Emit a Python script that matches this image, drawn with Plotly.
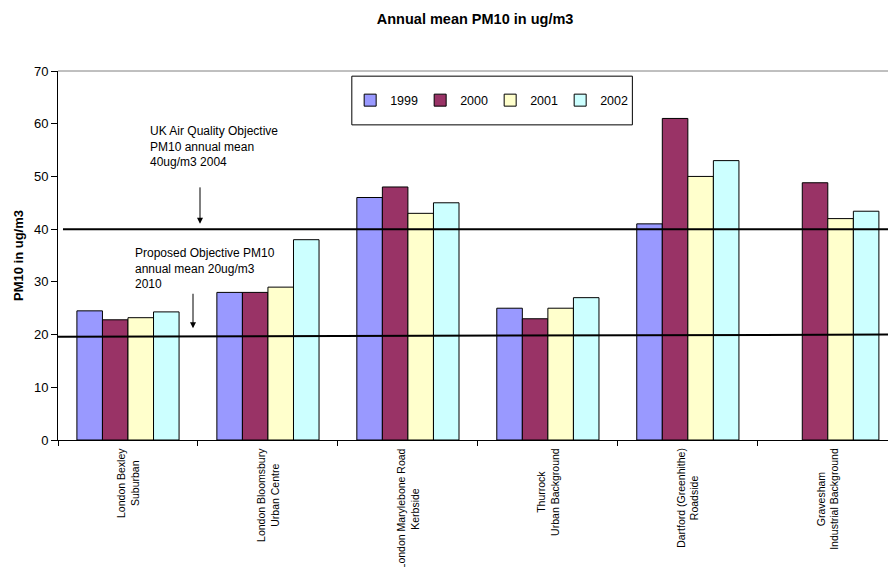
import plotly.graph_objects as go

# Monitoring sites (two-line labels) and annual mean PM10 per year
sites = [
    "London Bexley<br>Suburban",
    "London Bloomsbury<br>Urban Centre",
    "London Marylebone Road<br>Kerbside",
    "Thurrock<br>Urban Background",
    "Dartford (Greenhithe)<br>Roadside",
    "Gravesham<br>Industrial Background",
]
years = ["1999", "2000", "2001", "2002"]
pm10_1999 = [24.5, 28.0, 46.0, 25.0, 41.0, None]
pm10_2000 = [22.8, 28.0, 48.0, 23.0, 61.0, 48.8]
pm10_2001 = [23.2, 29.0, 43.0, 25.0, 50.0, 42.0]
pm10_2002 = [24.3, 38.0, 45.0, 27.0, 53.0, 43.4]
y_ticks = [0, 10, 20, 30, 40, 50, 60, 70]

# Air quality objectives (ug/m3)
objective_2004 = 40
objective_2010 = 20

colors = ["#9999FF", "#993366", "#FFFFCC", "#CCFFFF"]
series = [pm10_1999, pm10_2000, pm10_2001, pm10_2002]
FONT = "Arial, Liberation Sans, sans-serif"

fig = go.Figure()
for year, vals, col in zip(years, series, colors):
    fig.add_trace(go.Bar(
        x=sites, y=vals, name=year,
        marker=dict(color=col, line=dict(color="#000000", width=1)),
    ))

# Objective lines across the plot
fig.add_shape(type="line", xref="paper", yref="y", x0=0.006, x1=1,
              y0=objective_2004, y1=objective_2004,
              line=dict(color="#000000", width=2), layer="above")
fig.add_shape(type="line", xref="paper", yref="y", x0=0, x1=1,
              y0=objective_2010 - 0.4, y1=objective_2010,
              line=dict(color="#000000", width=2), layer="above")

# Top border of plot area
fig.add_shape(type="line", xref="paper", yref="paper", x0=0, x1=1, y0=1, y1=1,
              line=dict(color="#808080", width=1))

# Legend frame
fig.add_shape(type="rect", xref="paper", yref="paper",
              x0=0.354, x1=0.692, y0=0.854, y1=0.986,
              line=dict(color="#000000", width=1), fillcolor="#FFFFFF", layer="below")

annotations = []
# Category labels, rotated and centred
for s in sites:
    annotations.append(dict(
        x=s, xref="x", y=0, yref="paper", yanchor="top", xanchor="center",
        yshift=-6, text=s, textangle=-90, showarrow=False, align="center",
        font=dict(family=FONT, size=10.5, color="#000000"),
    ))

# Objective notes with arrows
annotations.append(dict(
    xref="paper", yref="paper", x=0.108, y=0.862, xanchor="left", yanchor="top",
    text="UK Air Quality Objective<br>PM10 annual mean<br>40ug/m3 2004",
    showarrow=False, align="left", font=dict(family=FONT, size=12, color="#000000"),
))
annotations.append(dict(
    xref="paper", yref="paper", x=0.090, y=0.53, xanchor="left", yanchor="top",
    text="Proposed Objective PM10<br>annual mean 20ug/m3<br>2010",
    showarrow=False, align="left", font=dict(family=FONT, size=12, color="#000000"),
))
annotations.append(dict(
    xref="paper", yref="y", x=(200 - 58) / 830, y=objective_2004 + 1,
    ax=0, ay=-38, text="", showarrow=True, arrowhead=2, arrowsize=1.2,
    arrowwidth=1, arrowcolor="#000000",
))
annotations.append(dict(
    xref="paper", yref="y", x=(193 - 58) / 830, y=objective_2010 + 1.2,
    ax=0, ay=-36, text="", showarrow=True, arrowhead=2, arrowsize=1.2,
    arrowwidth=1, arrowcolor="#000000",
))

fig.update_layout(
    width=888, height=567,
    margin=dict(l=58, r=0, t=71, b=127),
    paper_bgcolor="#FFFFFF", plot_bgcolor="#FFFFFF",
    barmode="group", bargap=0.27, bargroupgap=0,
    font=dict(family=FONT, size=12, color="#000000"),
    title=dict(text="<b>Annual mean PM10 in ug/m3</b>", x=0.535, xanchor="center",
               y=0.966, yanchor="middle", yref="container",
               font=dict(family=FONT, size=14.5, color="#000000")),
    legend=dict(orientation="h", x=0.352, xanchor="left", y=0.92, yanchor="middle",
                bgcolor="rgba(0,0,0,0)", borderwidth=0, itemwidth=30,
                entrywidth=25, traceorder="normal",
                font=dict(family=FONT, size=12.5, color="#000000")),
    annotations=annotations,
    showlegend=True,
)
fig.update_xaxes(
    type="category", range=[-0.5, 5.43], showticklabels=False,
    ticks="outside", tickson="boundaries", ticklen=5, tickcolor="#000000",
    showline=True, linecolor="#000000", linewidth=1, showgrid=False, zeroline=False,
)
fig.update_yaxes(
    range=[0, 70], tickvals=y_ticks, ticks="outside", ticklen=6,
    tickcolor="#000000", showline=True, linecolor="#000000", linewidth=1,
    showgrid=False, zeroline=False,
    title=dict(text="<b>PM10 in ug/m3</b>", standoff=7,
               font=dict(family=FONT, size=13, color="#000000")),
    tickfont=dict(family=FONT, size=13, color="#000000"),
)

fig.write_html("out.html")
